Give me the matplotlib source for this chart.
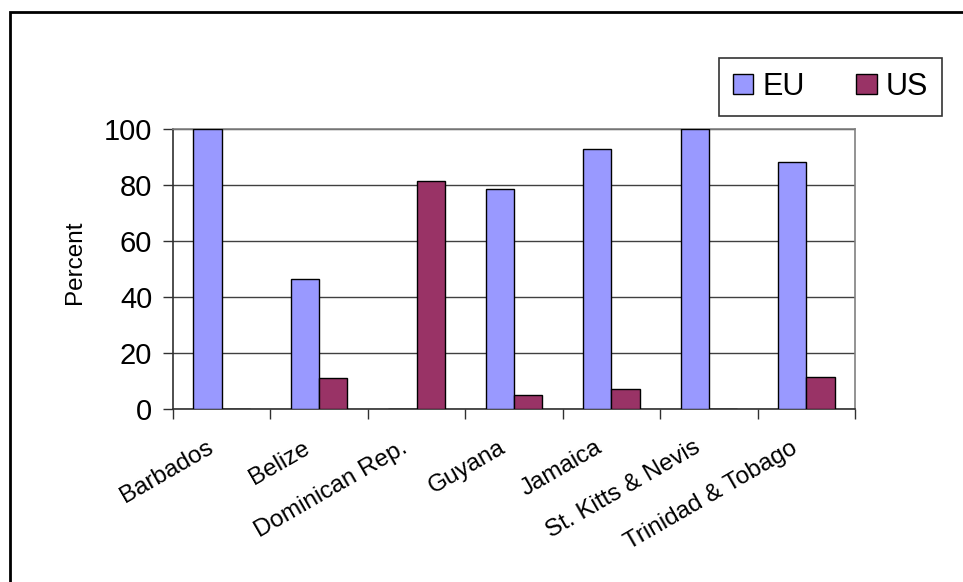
import matplotlib
matplotlib.use("Agg")
import matplotlib.pyplot as plt
from matplotlib.patches import Rectangle
import numpy as np

plt.rcParams['font.family'] = ['Liberation Sans', 'DejaVu Sans']

categories = ["Barbados", "Belize", "Dominican Rep.", "Guyana", "Jamaica",
              "St. Kitts & Nevis", "Trinidad & Tobago"]
eu_values = [100, 46.4, 0, 78.6, 93.0, 100, 88.2]
us_values = [0, 11.2, 81.5, 5.0, 7.0, 0, 11.5]
yticks = [0, 20, 40, 60, 80, 100]

W, H = 963, 582
fig = plt.figure(figsize=(W / 100, H / 100), dpi=100)
fig.patch.set_facecolor('white')

# outer frame
fig.patches.append(Rectangle((10 / W, -0.05), 1.1, 1 - 12 / H + 0.05,
                             transform=fig.transFigure, fill=False,
                             edgecolor='black', linewidth=2.0))

ax = fig.add_axes([173 / W, 1 - 409 / H, (855 - 173) / W, (409 - 129) / H])

x = np.arange(len(categories))
bw = 0.29
ax.bar(x - bw / 2, eu_values, width=bw, color='#9999FF', edgecolor='black',
       linewidth=1.0, label='EU', zorder=3)
ax.bar(x + bw / 2, us_values, width=bw, color='#993366', edgecolor='black',
       linewidth=1.0, label='US', zorder=3)

ax.set_xlim(-0.5, len(categories) - 0.5)
ax.set_ylim(0, 100)
ax.set_yticks(yticks)
ax.set_yticklabels([str(v) for v in yticks], fontsize=21)
ax.yaxis.grid(True, color='#404040', linewidth=1.0, zorder=0)
ax.set_axisbelow(True)

ax.set_xticks(x - 0.165)
ax.set_xticklabels(categories, rotation=30, ha='right', rotation_mode='anchor',
                   fontsize=17.5)
ax.tick_params(axis='x', which='major', length=0, pad=20)
ax.set_xticks(np.arange(-0.5, len(categories), 1.0), minor=True)
ax.tick_params(axis='x', which='minor', length=7, width=1.0, color='#303030')
ax.tick_params(axis='y', length=7, width=1.0, color='#303030', pad=8)

for s in ['left', 'bottom']:
    ax.spines[s].set_color('#303030')
    ax.spines[s].set_linewidth(1.2)
for s in ['top', 'right']:
    ax.spines[s].set_color('#808080')
    ax.spines[s].set_linewidth(1.2)

fig.text(75 / W, 1 - 262 / H, 'Percent', rotation=90, ha='center',
         va='center', fontsize=17.5)

leg = fig.legend(loc='upper left', bbox_to_anchor=(719 / W, 1 - 58 / H),
                 ncol=2, fontsize=22, frameon=True, fancybox=False,
                 edgecolor='black', handlelength=0.66, handleheight=0.66,
                 handletextpad=0.3, columnspacing=1.7, borderpad=0.45,
                 borderaxespad=0)
leg.get_frame().set_linewidth(1.2)

fig.savefig('out.png', dpi=100)
